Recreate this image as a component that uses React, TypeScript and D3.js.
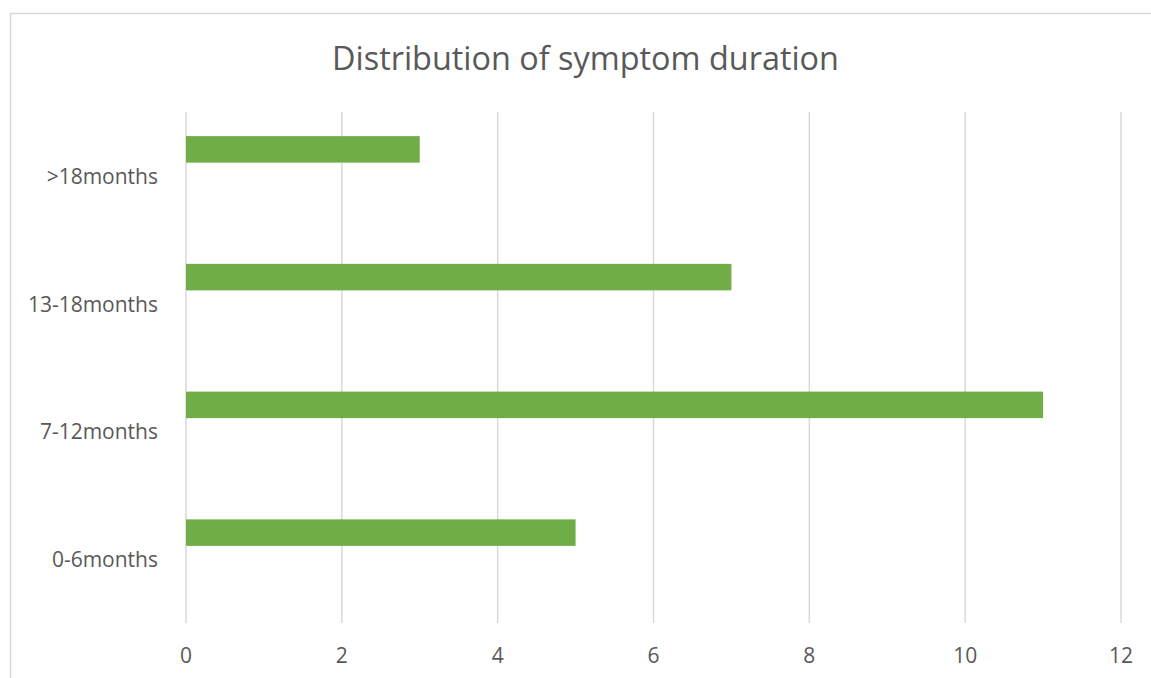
import React from "react";
import * as d3 from "d3";

const categories = [">18months", "13-18months", "7-12months", "0-6months"];
const counts = [3, 7, 11, 5];
const xTicks = [0, 2, 4, 6, 8, 10, 12];

const W = 1151;
const H = 678;
const FONT = "'Open Sans', 'Noto Sans', sans-serif";
const TEXT = "#595959";
const GRID = "#D9D9D9";
const BAR = "#70AD47";

export default function App() {
  const x = d3.scaleLinear().domain([0, 12]).range([186, 1121]);
  const y = d3.scaleBand<string>().domain(categories).range([112, 623]).padding(0);
  const bw = y.bandwidth();
  // three-slot cluster with 182% gap: one slot occupied by the series
  const slot = bw / (3 + 1.82);
  const gapHalf = (slot * 1.82) / 2;

  return (
    <svg
      width={W}
      height={H}
      style={{ position: "absolute", left: 0, top: 0, background: "#fff" }}
      fontFamily={FONT}
    >
      <rect x={10.5} y={13.5} width={W + 20} height={H + 20} fill="#fff" stroke={GRID} strokeWidth={1.5} />
      <text x={585.5} y={57} textAnchor="middle" dominantBaseline="central" fontSize={32.4} fill={TEXT}>
        Distribution of symptom duration
      </text>
      {xTicks.map((t) => (
        <line key={"g" + t} x1={x(t)} x2={x(t)} y1={112} y2={623} stroke={GRID} strokeWidth={1.5} />
      ))}
      {categories.map((c, i) => (
        <rect
          key={"b" + c}
          x={x(0)}
          y={(y(c) as number) + gapHalf}
          width={x(counts[i]) - x(0)}
          height={slot}
          fill={BAR}
        />
      ))}
      {categories.map((c) => (
        <text
          key={"l" + c}
          x={158}
          y={(y(c) as number) + bw / 2}
          textAnchor="end"
          dominantBaseline="central"
          fontSize={21}
          fill={TEXT}
        >
          {c}
        </text>
      ))}
      {xTicks.map((t) => (
        <text key={"t" + t} x={x(t)} y={655} textAnchor="middle" dominantBaseline="central" fontSize={21} fill={TEXT}>
          {t}
        </text>
      ))}
    </svg>
  );
}
